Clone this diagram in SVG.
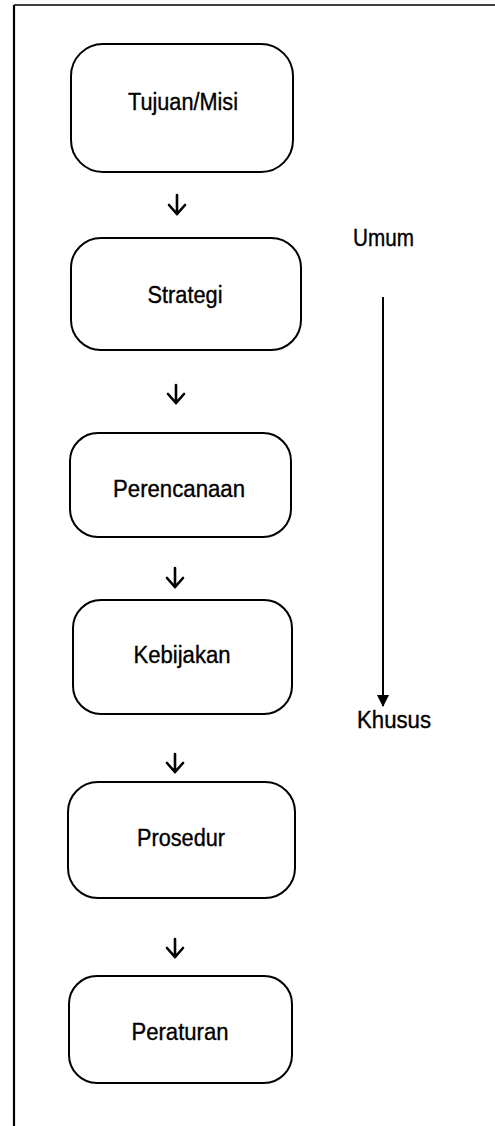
<svg xmlns="http://www.w3.org/2000/svg" width="495" height="1126" viewBox="0 0 495 1126">
  <style>
    .box { fill: #ffffff; stroke: #000000; stroke-width: 2; }
    .lbl { font-family: "Liberation Sans", Arial, sans-serif; font-size: 23px; fill: #000000; stroke: #000000; stroke-width: 0.35; text-anchor: middle; }
    .side { font-family: "Liberation Sans", Arial, sans-serif; font-size: 23px; fill: #000000; stroke: #000000; stroke-width: 0.35; }
    .step { fill: none; stroke: #000000; stroke-width: 2.6; stroke-linecap: round; stroke-linejoin: miter; }
    .frame { fill: none; stroke: #000000; }
  </style>
  <defs>
    <marker id="tri" viewBox="0 0 12 12" refX="11" refY="6" markerWidth="12" markerHeight="12" markerUnits="userSpaceOnUse" orient="auto">
      <path d="M0,0 L12,6 L0,12 Z" fill="#000000"/>
    </marker>
  </defs>
  <rect width="495" height="1126" fill="#ffffff"/>
  <g id="frame">
    <line class="frame" x1="14" y1="5" x2="14" y2="1126" stroke-width="2.2"/>
    <line class="frame" x1="14" y1="5" x2="495" y2="5" stroke-width="1.6"/>
  </g>
  <g id="node-tujuan">
    <rect class="box" x="71" y="44" width="222" height="128" rx="32" ry="32"/>
    <text class="lbl" x="183" y="110" textLength="110" lengthAdjust="spacingAndGlyphs">Tujuan/Misi</text>
  </g>
  <g id="node-strategi">
    <rect class="box" x="71" y="238" width="230" height="112" rx="30" ry="30"/>
    <text class="lbl" x="185" y="303" textLength="75" lengthAdjust="spacingAndGlyphs">Strategi</text>
  </g>
  <g id="node-perencanaan">
    <rect class="box" x="70" y="433" width="221" height="104" rx="28" ry="28"/>
    <text class="lbl" x="179" y="497" textLength="132" lengthAdjust="spacingAndGlyphs">Perencanaan</text>
  </g>
  <g id="node-kebijakan">
    <rect class="box" x="73" y="600" width="219" height="114" rx="28" ry="28"/>
    <text class="lbl" x="182" y="663" textLength="97" lengthAdjust="spacingAndGlyphs">Kebijakan</text>
  </g>
  <g id="node-prosedur">
    <rect class="box" x="68" y="782" width="227" height="116" rx="30" ry="30"/>
    <text class="lbl" x="181" y="846" textLength="88" lengthAdjust="spacingAndGlyphs">Prosedur</text>
  </g>
  <g id="node-peraturan">
    <rect class="box" x="69" y="976" width="223" height="107" rx="28" ry="28"/>
    <text class="lbl" x="180" y="1040" textLength="97" lengthAdjust="spacingAndGlyphs">Peraturan</text>
  </g>
  <g id="connectors">
    <path class="step" d="M177,195 V214 M169,205 L177,214 L185,205"/>
    <path class="step" d="M176,385 V403 M168,394 L176,403 L184,394"/>
    <path class="step" d="M175,568 V587 M167,578 L175,587 L183,578"/>
    <path class="step" d="M175,754 V772 M167,763 L175,772 L183,763"/>
    <path class="step" d="M175,939 V957 M167,948 L175,957 L183,948"/>
  </g>
  <g id="scale">
    <text class="side" x="353" y="246" textLength="61" lengthAdjust="spacingAndGlyphs">Umum</text>
    <line x1="383" y1="297" x2="383" y2="706" stroke="#000000" stroke-width="2" marker-end="url(#tri)"/>
    <text class="side" x="357" y="728" textLength="74" lengthAdjust="spacingAndGlyphs">Khusus</text>
  </g>
</svg>
